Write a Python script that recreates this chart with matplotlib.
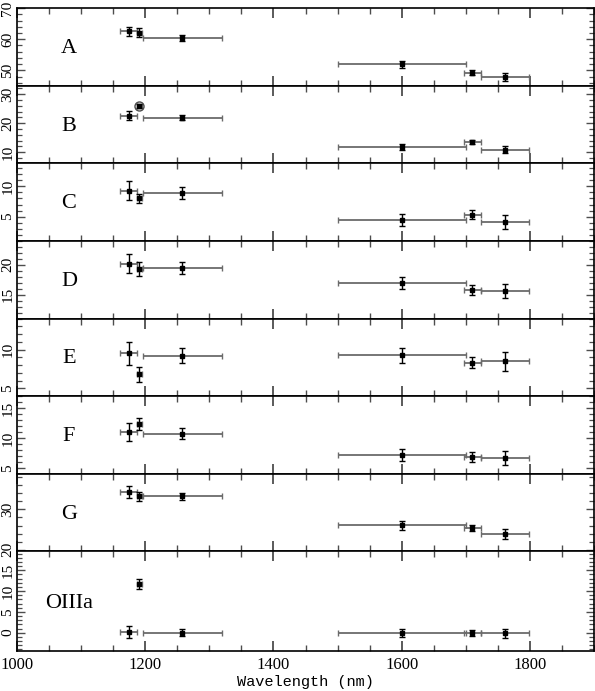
import numpy as np
import matplotlib
matplotlib.use('Agg')
import matplotlib.pyplot as plt
from matplotlib.ticker import MultipleLocator

# wavelength bins (nm)
wave = [1174, 1191, 1258, 1600, 1710, 1761]
wave_err = [13, 4.5, 62, 100, 13, 38]

names = ['A', 'B', 'C', 'D', 'E', 'F', 'G', 'OIIIa']

A = [62.5, 62.1, 60.5, 52.0, 49.3, 47.8]
A_err = [1.6, 1.4, 1.0, 1.1, 0.85, 1.3]
B = [22.6, 25.9, 21.9, 11.8, 13.4, 10.9]
B_err = [1.5, 0.7, 0.8, 1.0, 0.7, 1.3]
C = [9.3, 8.0, 8.9, 4.5, 5.35, 4.1]
C_err = [1.5, 0.8, 0.95, 1.0, 0.75, 1.15]
D = [20.2, 19.3, 19.5, 17.0, 15.85, 15.6]
D_err = [1.6, 1.2, 1.0, 1.0, 0.85, 1.2]
E = [9.5, 6.8, 9.2, 9.27, 8.33, 8.5]
E_err = [1.5, 1.0, 0.95, 1.0, 0.75, 1.2]
F = [11.1, 12.4, 10.8, 7.2, 6.8, 6.7]
F_err = [1.5, 1.05, 0.97, 1.0, 0.83, 1.2]
G = [34.3, 33.3, 33.2, 26.1, 25.4, 24.0]
G_err = [1.5, 1.1, 0.9, 1.1, 0.75, 1.25]
OIIIa = [0.1, 11.6, 0.0, -0.15, -0.15, -0.1]
OIIIa_err = [1.4, 1.2, 0.8, 1.0, 0.7, 1.1]

values = [A, B, C, D, E, F, G, OIIIa]
errors = [A_err, B_err, C_err, D_err, E_err, F_err, G_err, OIIIa_err]

ylims = [(45.1, 70.05), (6.2, 32.9), (1.0, 13.8), (11.0, 24.0),
         (4.0, 14.0), (4.05, 17.05), (19.6, 38.8), (-4.4, 19.5)]
majors = [10, 10, 5, 5, 5, 5, 10, 5]
minors = [2, 2, 1, 1, 1, 1, 2, 1]

# point 2 of panel B drawn as an open circle
circled = {'B': 1}

fig = plt.figure(figsize=(5.95, 6.91), dpi=100)
gs = fig.add_gridspec(8, 1, height_ratios=[78]*7 + [100], hspace=0,
                      left=17/595, right=594/595, top=1-8/691, bottom=1-651/691)

serif = 'Liberation Serif'
axes = []
for i in range(8):
    ax = fig.add_subplot(gs[i], sharex=axes[0] if axes else None)
    axes.append(ax)
    y = values[i]
    ye = errors[i]
    ax.errorbar(wave, y, xerr=wave_err, fmt='none', ecolor='0.42', elinewidth=1.3,
                capsize=2.5, capthick=1.0)
    ax.errorbar(wave, y, yerr=ye, fmt='s', color='k', ms=2.4, ecolor='k',
                elinewidth=1.0, capsize=2.5, capthick=1.0)
    if names[i] in circled:
        j = circled[names[i]]
        ax.plot(wave[j], y[j], 'o', mfc='none', mec='0.3', ms=6.5, mew=1.0)
    ax.text(1081, 0.48, names[i], transform=ax.get_xaxis_transform(),
            ha='center', va='center', fontsize=16, family=serif)
    ax.set_ylim(*ylims[i])
    ax.set_xlim(1000, 1900)
    ax.yaxis.set_major_locator(MultipleLocator(majors[i]))
    ax.yaxis.set_minor_locator(MultipleLocator(minors[i]))
    ax.xaxis.set_major_locator(MultipleLocator(200))
    ax.xaxis.set_minor_locator(MultipleLocator(50))
    ax.tick_params(which='both', direction='in', top=True, right=True, color='0.3')
    ax.tick_params(axis='x', which='major', length=7, width=1.3)
    ax.tick_params(axis='x', which='minor', length=4, width=1.0)
    ax.tick_params(axis='y', which='major', length=6, width=1.0, pad=2)
    ax.tick_params(axis='y', which='minor', length=3.5, width=0.9)
    for s in ax.spines.values():
        s.set_linewidth(1.2)
    for lab in ax.get_yticklabels():
        lab.set_rotation(90)
        lab.set_va('center')
        lab.set_family(serif)
        lab.set_fontsize(11)
    if i < 7:
        ax.tick_params(axis='x', labelbottom=False)

for lab in axes[-1].get_xticklabels():
    lab.set_family(serif)
    lab.set_fontsize(12)
axes[-1].tick_params(axis='x', pad=4)
axes[-1].set_xlabel('Wavelength (nm)', family='Liberation Mono', fontsize=11,
                    labelpad=2)

fig.savefig('out.png', dpi=100)
